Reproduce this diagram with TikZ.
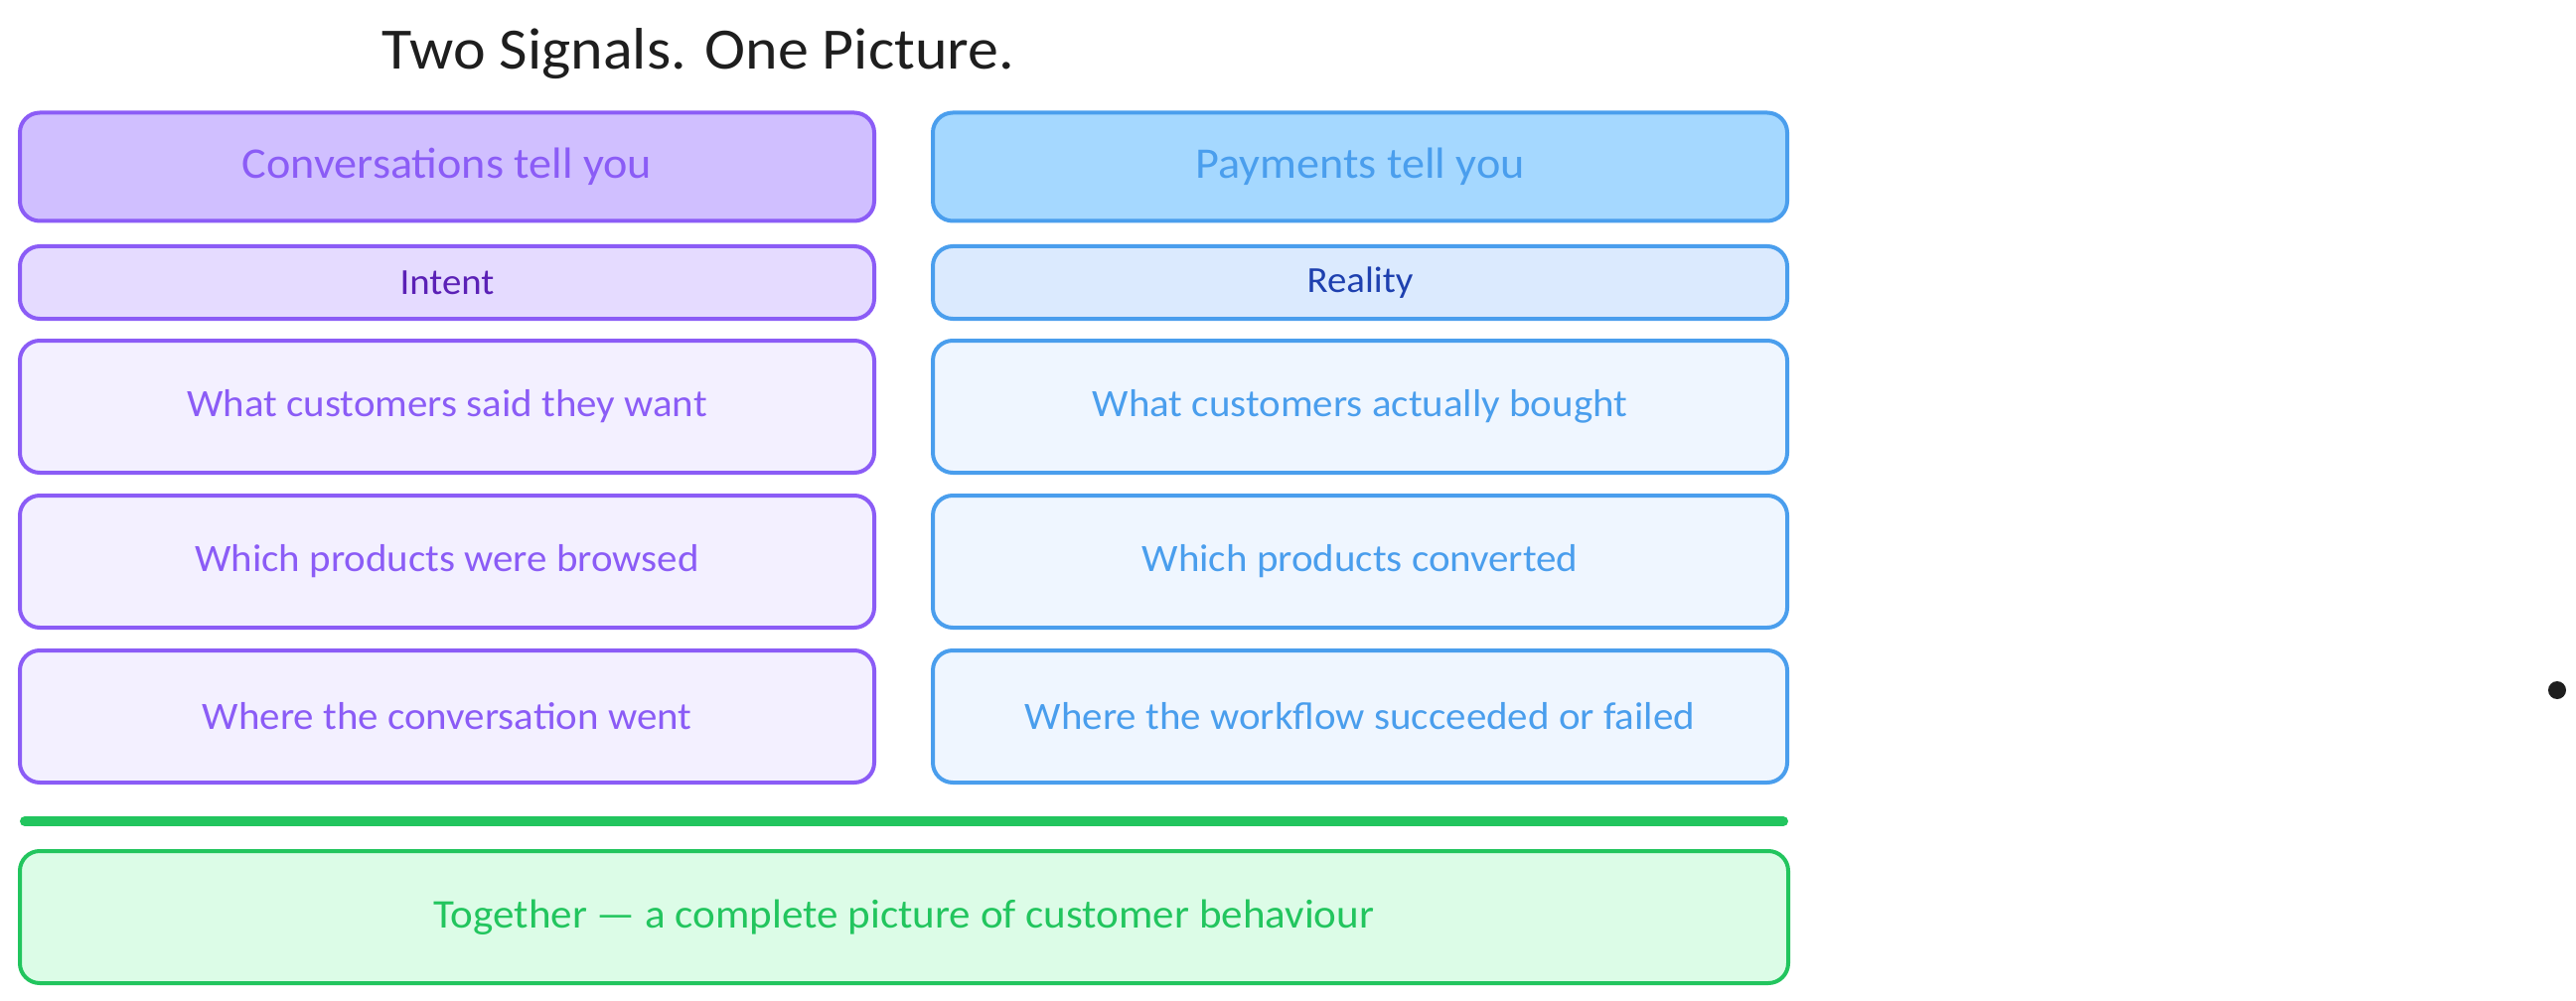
\documentclass[tikz,border=0pt]{standalone}
\usepackage{fontspec}
\setmainfont[FakeStretch=1.05]{Carlito}
\definecolor{pstroke}{HTML}{8B5CF6}
\definecolor{phead}{HTML}{D0BFFF}
\definecolor{psub}{HTML}{E5DBFF}
\definecolor{prow}{HTML}{F3F0FF}
\definecolor{ptext}{HTML}{5B21B6}
\definecolor{bstroke}{HTML}{4A9EED}
\definecolor{bhead}{HTML}{A5D8FF}
\definecolor{bsub}{HTML}{DBEAFE}
\definecolor{brow}{HTML}{EFF6FF}
\definecolor{btext}{HTML}{1E40AF}
\definecolor{gstroke}{HTML}{22C55E}
\definecolor{gfill}{HTML}{DCFCE7}
\definecolor{ink}{HTML}{1E1E1E}
\begin{document}
\begin{tikzpicture}[x=1pt,y=-1pt,
  box/.style={rectangle, rounded corners=20pt, line width=4pt, minimum width=860pt, inner sep=0pt},
  headbox/.style={box, minimum height=109pt, font=\fontsize{44}{52}\selectfont},
  subbox/.style={box, minimum height=73pt, font=\fontsize{37}{44}\selectfont},
  rowbox/.style={box, minimum height=133pt, font=\fontsize{39}{46}\selectfont},
  pl/.style={draw=pstroke, text=pstroke},
  bl/.style={draw=bstroke, text=bstroke}]
\useasboundingbox (0,0) rectangle (2593,1008);
\node[font=\fontsize{59}{70}\selectfont, text=ink] (title) at (703,54) {Two Signals. One Picture.};
% left column
\node[headbox, pl, fill=phead] (lhead) at (450,168) {Conversations tell you};
\node[subbox, pl, fill=psub, text=ptext] (lsub) at (450,284.5) {Intent};
\node[rowbox, pl, fill=prow] (lr1) at (450,409.5) {What customers said they want};
\node[rowbox, pl, fill=prow] (lr2) at (450,565.5) {Which products were browsed};
\node[rowbox, pl, fill=prow] (lr3) at (450,721.5) {Where the conversation went};
% right column
\node[headbox, bl, fill=bhead] (rhead) at (1369,168) {Payments tell you};
\node[subbox, bl, fill=bsub, text=btext] (rsub) at (1369,284.5) {Reality};
\node[rowbox, bl, fill=brow] (rr1) at (1369,409.5) {What customers actually bought};
\node[rowbox, bl, fill=brow] (rr2) at (1369,565.5) {Which products converted};
\node[rowbox, bl, fill=brow] (rr3) at (1369,721.5) {Where the workflow succeeded or failed};
% divider
\coordinate (divL) at (25,827);
\coordinate (divR) at (1795,827);
\draw[gstroke, line width=10pt, line cap=round] (divL) -- (divR);
% bottom
\node[box, minimum width=1780pt, minimum height=133pt, draw=gstroke, fill=gfill, text=gstroke, font=\fontsize{41}{48}\selectfont] (together) at (910,923.5) {Together — a complete picture of customer behaviour};
% dot
\fill[ink] (2574,695) circle (9pt);
\end{tikzpicture}
\end{document}
